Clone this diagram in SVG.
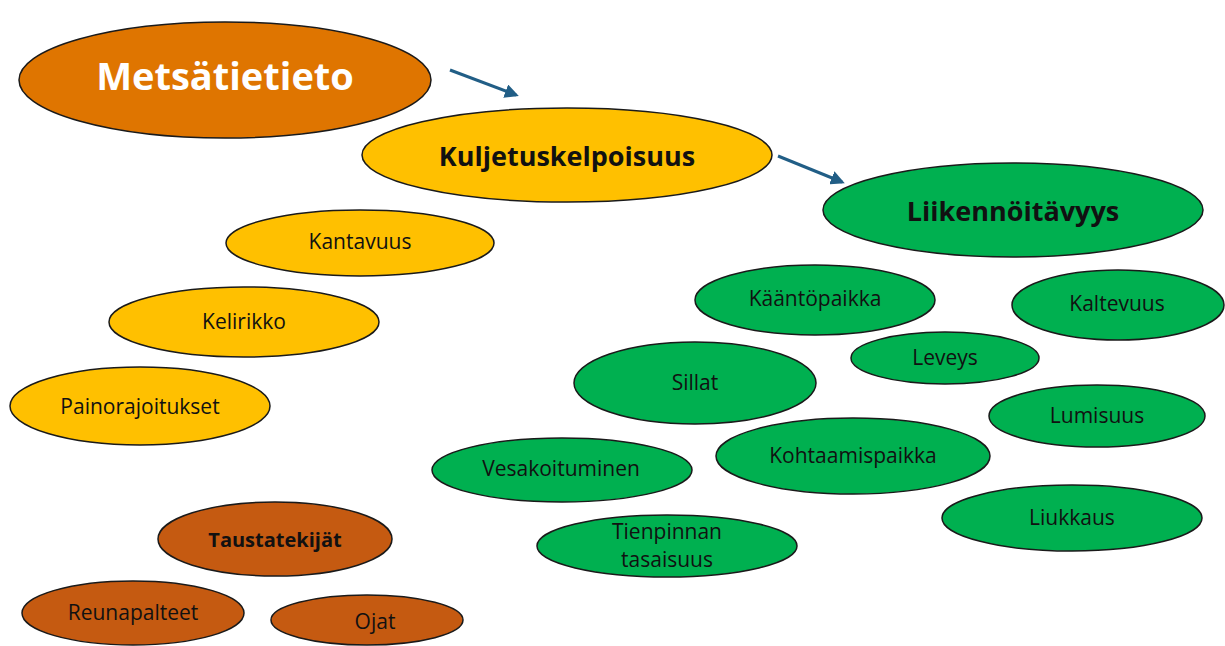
<svg xmlns="http://www.w3.org/2000/svg" width="1225" height="646" viewBox="0 0 1225 646">
<style>
ellipse{stroke:#1a1a1a;stroke-width:1.5}
.or{fill:#DF7500}.ye{fill:#FFC000}.gr{fill:#00B050}.br{fill:#C55A11}
text{font-family:"Open Sans","Liberation Sans",sans-serif;text-anchor:middle;dominant-baseline:central;fill:#111}
.t{font-size:21px}
.b{font-weight:bold;font-size:20px}
.big{font-weight:bold;font-size:27px}
</style>
<defs>
<marker id="ah" markerWidth="14" markerHeight="14" refX="11" refY="7" orient="auto" markerUnits="userSpaceOnUse"><path d="M0,0 L14,7 L0,14 z" fill="#215E86"/></marker>
</defs>
<g id="connectors" stroke="#215E86" stroke-width="3" fill="none">
<line x1="450" y1="70" x2="516" y2="95" marker-end="url(#ah)"/>
<line x1="778" y1="156" x2="842" y2="182" marker-end="url(#ah)"/>
</g>
<g id="metsatietieto"><ellipse class="or" cx="225" cy="80" rx="206" ry="58"/><text x="225" y="75" style="font-size:38px;font-weight:bold;fill:#fff">Metsätietieto</text></g>
<g id="kuljetuskelpoisuus"><ellipse class="ye" cx="567" cy="155" rx="205" ry="47"/><text class="big" x="567" y="155">Kuljetuskelpoisuus</text></g>
<g id="liikennoitavyys"><ellipse class="gr" cx="1013" cy="210" rx="190" ry="47"/><text class="big" x="1013" y="210">Liikennöitävyys</text></g>
<g id="kantavuus"><ellipse class="ye" cx="360" cy="243" rx="134" ry="33"/><text class="t" x="360" y="241">Kantavuus</text></g>
<g id="kelirikko"><ellipse class="ye" cx="244" cy="322" rx="135" ry="35"/><text class="t" x="244" y="321">Kelirikko</text></g>
<g id="painorajoitukset"><ellipse class="ye" cx="140" cy="406" rx="130" ry="39"/><text class="t" x="140" y="406">Painorajoitukset</text></g>
<g id="taustatekijat"><ellipse class="br" cx="275" cy="539" rx="117" ry="37"/><text class="b" x="275" y="539">Taustatekijät</text></g>
<g id="reunapalteet"><ellipse class="br" cx="133" cy="613" rx="111" ry="32"/><text class="t" x="133" y="612">Reunapalteet</text></g>
<g id="ojat"><ellipse class="br" cx="367" cy="620" rx="96" ry="25"/><text class="t" x="375" y="621">Ojat</text></g>
<g id="kaantopaikka"><ellipse class="gr" cx="815" cy="300" rx="120" ry="35"/><text class="t" x="815" y="298">Kääntöpaikka</text></g>
<g id="kaltevuus"><ellipse class="gr" cx="1118" cy="305" rx="106" ry="35"/><text class="t" x="1117" y="303">Kaltevuus</text></g>
<g id="leveys"><ellipse class="gr" cx="945" cy="358" rx="94" ry="26"/><text class="t" x="945" y="357">Leveys</text></g>
<g id="sillat"><ellipse class="gr" cx="695" cy="383" rx="121" ry="41"/><text class="t" x="695" y="382">Sillat</text></g>
<g id="lumisuus"><ellipse class="gr" cx="1097" cy="416" rx="108" ry="31"/><text class="t" x="1097" y="415">Lumisuus</text></g>
<g id="kohtaamispaikka"><ellipse class="gr" cx="853" cy="456" rx="137" ry="38"/><text class="t" x="853" y="455">Kohtaamispaikka</text></g>
<g id="vesakoituminen"><ellipse class="gr" cx="562" cy="470" rx="130" ry="32"/><text class="t" x="561" y="468">Vesakoituminen</text></g>
<g id="liukkaus"><ellipse class="gr" cx="1072" cy="518" rx="130" ry="33"/><text class="t" x="1072" y="517">Liukkaus</text></g>
<g id="tienpinnan"><ellipse class="gr" cx="667" cy="546" rx="130" ry="31"/><text class="t" x="667" y="531">Tienpinnan</text><text class="t" x="667" y="559">tasaisuus</text></g>
</svg>
